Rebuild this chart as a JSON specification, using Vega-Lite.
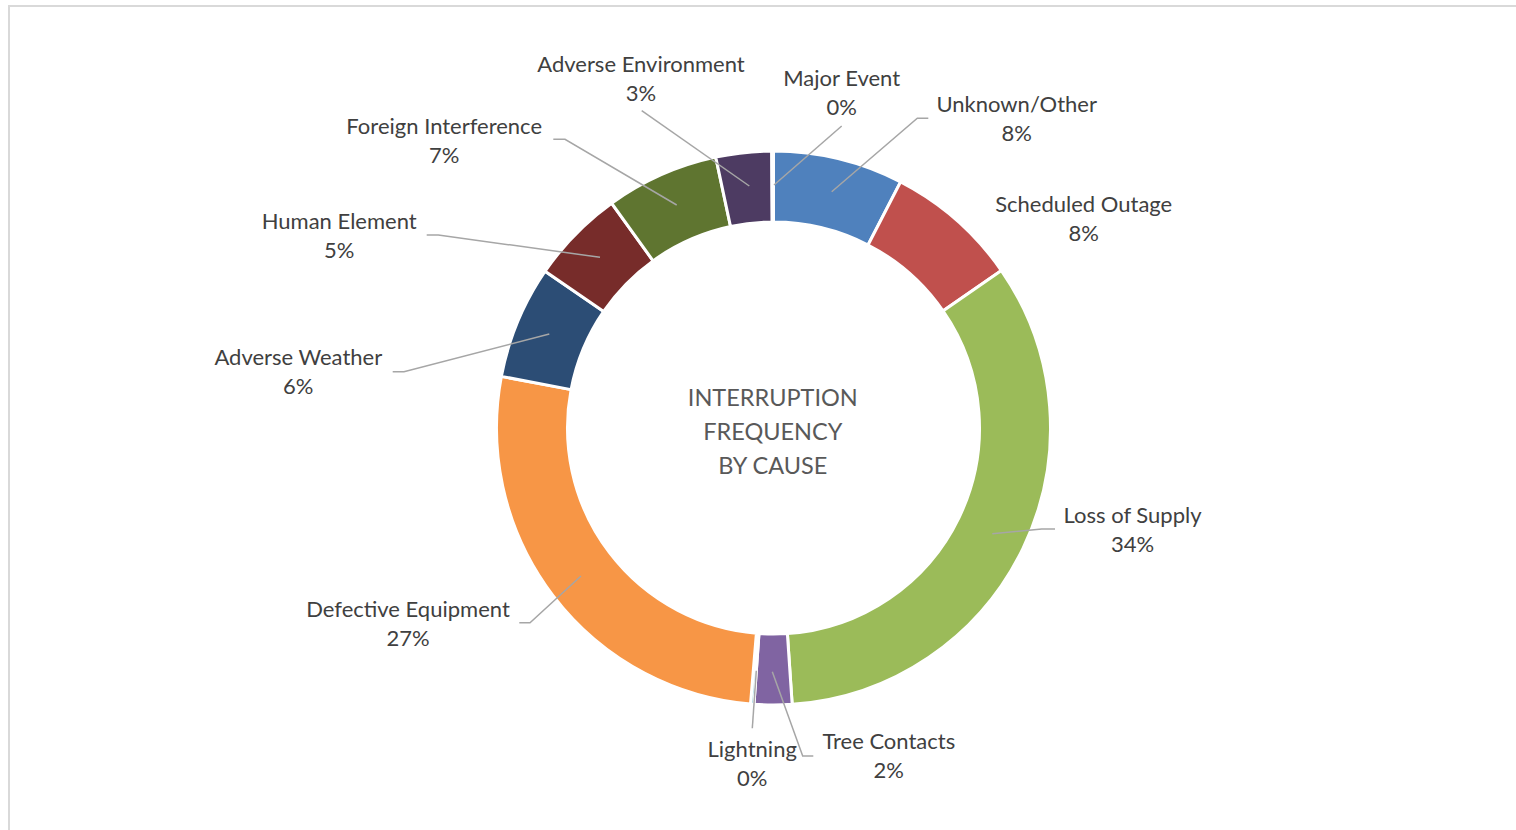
{
  "$schema": "https://vega.github.io/schema/vega-lite/v6.json",
  "width": 1529,
  "height": 844,
  "autosize": {"type": "none"},
  "padding": {"left": 9, "top": 6, "right": 0, "bottom": 0},
  "background": "white",
  "config": {"view": {"stroke": "#D9D9D9", "strokeWidth": 2}},
  "datasets": {
    "slices": [
      {"idx": 1, "cause": "Unknown/Other", "value": 7.6},
      {"idx": 2, "cause": "Scheduled Outage", "value": 7.8},
      {"idx": 3, "cause": "Loss of Supply", "value": 33.6},
      {"idx": 4, "cause": "Tree Contacts", "value": 2.2},
      {"idx": 5, "cause": "Lightning", "value": 0.2},
      {"idx": 6, "cause": "Defective Equipment", "value": 26.7},
      {"idx": 7, "cause": "Adverse Weather", "value": 6.6},
      {"idx": 8, "cause": "Human Element", "value": 5.5},
      {"idx": 9, "cause": "Foreign Interference", "value": 6.6},
      {"idx": 10, "cause": "Adverse Environment", "value": 3.25},
      {"idx": 11, "cause": "Major Event", "value": 0.1}
    ],
    "leaders": [
      {"cause": "Adverse Environment", "seq": 1, "x": -131.8, "y": -317.3},
      {"cause": "Adverse Environment", "seq": 2, "x": -24.2, "y": -242},
      {"cause": "Major Event", "seq": 1, "x": 68.2, "y": -302},
      {"cause": "Major Event", "seq": 2, "x": 0.5, "y": -243},
      {"cause": "Unknown/Other", "seq": 1, "x": 154.8, "y": -309.7},
      {"cause": "Unknown/Other", "seq": 2, "x": 143.8, "y": -309.7},
      {"cause": "Unknown/Other", "seq": 3, "x": 58.2, "y": -236.3},
      {"cause": "Foreign Interference", "seq": 1, "x": -220.2, "y": -288.7},
      {"cause": "Foreign Interference", "seq": 2, "x": -208.5, "y": -288.7},
      {"cause": "Foreign Interference", "seq": 3, "x": -96.8, "y": -223},
      {"cause": "Human Element", "seq": 1, "x": -346.8, "y": -193},
      {"cause": "Human Element", "seq": 2, "x": -335.2, "y": -193},
      {"cause": "Human Element", "seq": 3, "x": -173.5, "y": -170.7},
      {"cause": "Adverse Weather", "seq": 1, "x": -380.8, "y": -56.3},
      {"cause": "Adverse Weather", "seq": 2, "x": -369.5, "y": -56.3},
      {"cause": "Adverse Weather", "seq": 3, "x": -224.2, "y": -94},
      {"cause": "Defective Equipment", "seq": 1, "x": -254.2, "y": 194.7},
      {"cause": "Defective Equipment", "seq": 2, "x": -243.5, "y": 194.7},
      {"cause": "Defective Equipment", "seq": 3, "x": -192.5, "y": 148},
      {"cause": "Loss of Supply", "seq": 1, "x": 281.5, "y": 101},
      {"cause": "Loss of Supply", "seq": 2, "x": 268.2, "y": 101},
      {"cause": "Loss of Supply", "seq": 3, "x": 218.8, "y": 105.7},
      {"cause": "Lightning", "seq": 1, "x": -21.2, "y": 300.3},
      {"cause": "Lightning", "seq": 2, "x": -17.2, "y": 242.7},
      {"cause": "Tree Contacts", "seq": 1, "x": 39.8, "y": 328},
      {"cause": "Tree Contacts", "seq": 2, "x": 29.2, "y": 328},
      {"cause": "Tree Contacts", "seq": 3, "x": -1.2, "y": 243.7}
    ],
    "labels": [
      {"label": "Adverse Environment\n3%", "x": -132.5, "y": -356.3},
      {"label": "Major Event\n0%", "x": 68.2, "y": -342.3},
      {"label": "Unknown/Other\n8%", "x": 243.2, "y": -315.7},
      {"label": "Scheduled Outage\n8%", "x": 310.2, "y": -215.7},
      {"label": "Loss of Supply\n34%", "x": 359, "y": 95.3},
      {"label": "Tree Contacts\n2%", "x": 115.3, "y": 321.3},
      {"label": "Lightning\n0%", "x": -21.3, "y": 328.7},
      {"label": "Defective Equipment\n27%", "x": -365.5, "y": 189.3},
      {"label": "Adverse Weather\n6%", "x": -475.2, "y": -63},
      {"label": "Human Element\n5%", "x": -434.3, "y": -199},
      {"label": "Foreign Interference\n7%", "x": -329.3, "y": -294}
    ],
    "center": [
      {"label": "INTERRUPTION\nFREQUENCY\nBY CAUSE", "x": -0.7, "y": -22.3}
    ]
  },
  "layer": [
    {
      "data": {"name": "slices"},
      "mark": {"type": "arc", "outerRadius": 277, "innerRadius": 206, "stroke": "white", "strokeWidth": 3},
      "encoding": {
        "theta": {"field": "value", "type": "quantitative", "stack": true},
        "order": {"field": "idx", "type": "quantitative"},
        "color": {
          "field": "cause",
          "type": "nominal",
          "legend": null,
          "scale": {
            "domain": ["Unknown/Other", "Scheduled Outage", "Loss of Supply", "Tree Contacts", "Lightning", "Defective Equipment", "Adverse Weather", "Human Element", "Foreign Interference", "Adverse Environment", "Major Event"],
            "range": ["#4F81BD", "#C0504D", "#9BBB59", "#8064A2", "#4BACC6", "#F79646", "#2C4D75", "#772C2A", "#5F7530", "#4D3B62", "#276A7C"]
          }
        }
      }
    },
    {
      "data": {"name": "leaders"},
      "mark": {"type": "line", "color": "#A6A6A6", "strokeWidth": 1.5},
      "encoding": {
        "x": {"field": "x", "type": "quantitative", "axis": null, "scale": {"domain": [-764.5, 764.5], "nice": false, "zero": false}},
        "y": {"field": "y", "type": "quantitative", "axis": null, "scale": {"domain": [-422, 422], "nice": false, "zero": false, "reverse": true}},
        "detail": {"field": "cause", "type": "nominal"},
        "order": {"field": "seq", "type": "quantitative"}
      }
    },
    {
      "data": {"name": "labels"},
      "mark": {"type": "text", "font": "Lato", "fontSize": 22, "color": "#404040", "align": "center", "baseline": "alphabetic", "lineBreak": "\n", "lineHeight": 29},
      "encoding": {
        "x": {"field": "x", "type": "quantitative", "axis": null, "scale": {"domain": [-764.5, 764.5], "nice": false, "zero": false}},
        "y": {"field": "y", "type": "quantitative", "axis": null, "scale": {"domain": [-422, 422], "nice": false, "zero": false, "reverse": true}},
        "text": {"field": "label", "type": "nominal"}
      }
    },
    {
      "data": {"name": "center"},
      "mark": {"type": "text", "font": "Lato", "fontSize": 23.5, "color": "#595959", "align": "center", "baseline": "alphabetic", "lineBreak": "\n", "lineHeight": 34},
      "encoding": {
        "x": {"field": "x", "type": "quantitative", "axis": null, "scale": {"domain": [-764.5, 764.5], "nice": false, "zero": false}},
        "y": {"field": "y", "type": "quantitative", "axis": null, "scale": {"domain": [-422, 422], "nice": false, "zero": false, "reverse": true}},
        "text": {"field": "label", "type": "nominal"}
      }
    }
  ]
}
